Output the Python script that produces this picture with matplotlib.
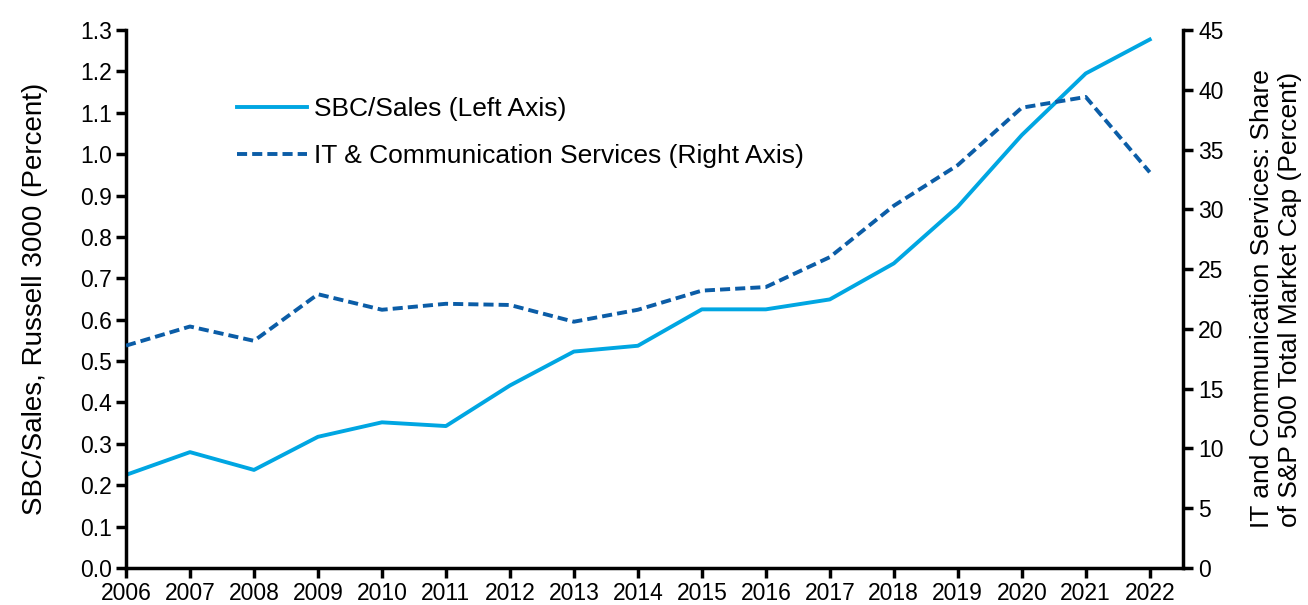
import matplotlib
matplotlib.use("Agg")
import matplotlib.pyplot as plt

years = list(range(2006, 2023))
sbc_sales = [0.225, 0.280, 0.237, 0.317, 0.352, 0.343, 0.441, 0.523, 0.537,
             0.625, 0.625, 0.649, 0.736, 0.873, 1.046, 1.195, 1.277]
it_share = [18.6, 20.2, 19.0, 22.9, 21.6, 22.1, 22.0, 20.6, 21.6,
            23.2, 23.5, 26.0, 30.3, 33.7, 38.5, 39.4, 33.1]
left_ticks = [round(0.1 * i, 1) for i in range(14)]
right_ticks = list(range(0, 50, 5))

plt.rcParams['font.family'] = ['Liberation Sans', 'DejaVu Sans']

W, H = 1308, 605
fig = plt.figure(figsize=(W / 100, H / 100), dpi=100)
ax = fig.add_axes([126 / W, 1 - 568 / H, (1183 - 126) / W, (568 - 30) / H])
ax2 = ax.twinx()

l1, = ax.plot(years, sbc_sales, color='#00A6E2', lw=2.8, label='SBC/Sales (Left Axis)')
l2, = ax2.plot(years, it_share, color='#0B5DA7', lw=2.8, ls=(0, (2.6, 1.3)),
               label='IT & Communication Services (Right Axis)')

ax.set_xlim(2006, 2022.52)
ax.set_ylim(0, 1.3)
ax2.set_ylim(0, 45)
ax.set_xticks(years)
ax.set_yticks(left_ticks)
ax.set_yticklabels([f"{v:.1f}" for v in left_ticks])
ax2.set_yticks(right_ticks)

for a in (ax, ax2):
    a.spines['top'].set_visible(False)
    for s in a.spines.values():
        s.set_linewidth(2.5)
ax.spines['right'].set_visible(False)
ax2.spines['left'].set_visible(False)
ax2.spines['bottom'].set_visible(False)

ax.tick_params(axis='both', direction='out', length=7, width=2.5, labelsize=16.5, pad=3)
ax2.tick_params(axis='y', direction='out', length=7, width=2.5, labelsize=16.5, pad=4)

ax.set_ylabel('SBC/Sales, Russell 3000 (Percent)', fontsize=20, va='center')
ax.yaxis.set_label_coords((35 - 126) / 1057, 0.5)
ax2.set_ylabel('IT and Communication Services: Share\nof S&P 500 Total Market Cap (Percent)',
               fontsize=19, rotation=90, va='center', linespacing=1.25)
ax2.yaxis.set_label_coords((1276 - 126) / 1057, 0.5)

fig.legend(handles=[l1, l2], loc='upper left', bbox_to_anchor=(237 / W, 1 - 97 / H),
           frameon=False, fontsize=19, handlelength=2.65, labelspacing=0.87,
           handletextpad=0.25, borderpad=0, borderaxespad=0)

fig.savefig('out.png', dpi=100)
